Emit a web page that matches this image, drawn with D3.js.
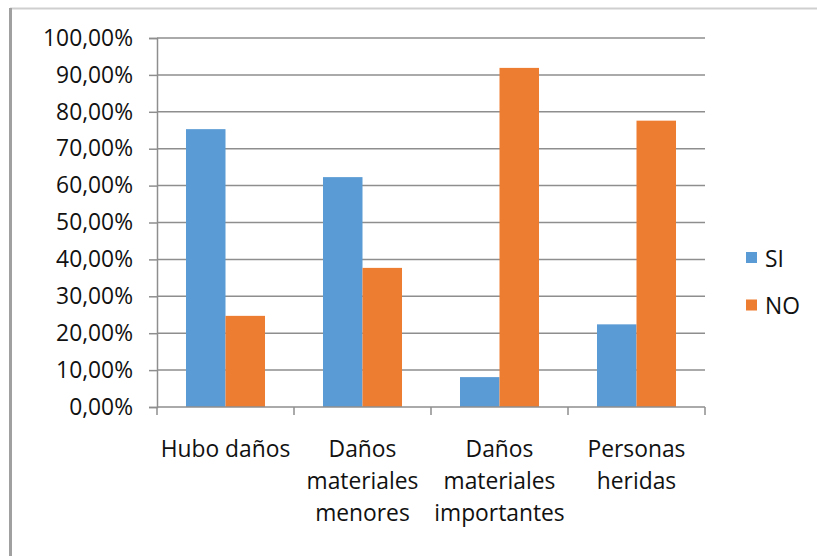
<!DOCTYPE html>
<html>
<head>
<meta charset="utf-8">
<script src="https://cdn.jsdelivr.net/npm/d3@7"></script>
<style>
  body { margin: 0; background: #fff; }
  text { font-family: "Open Sans", sans-serif; fill: #111; }
</style>
</head>
<body>
<div id="chart"></div>
<script>
const categories = [
  ["Hubo daños"],
  ["Daños", "materiales", "menores"],
  ["Daños", "materiales", "importantes"],
  ["Personas", "heridas"],
];
const series = ["SI", "NO"];
const siValues = [75.3, 62.3, 8.1, 22.4];
const noValues = [24.7, 37.7, 91.9, 77.6];
const yTicks = [0, 10, 20, 30, 40, 50, 60, 70, 80, 90, 100];
const colors = { SI: "#5b9bd5", NO: "#ed7d31" };

const width = 817, height = 556;
const plot = { left: 157, right: 705, top: 38, bottom: 407 };
const fontSize = 22.8;

const svg = d3.select("#chart").append("svg")
  .attr("width", width).attr("height", height);

svg.append("rect").attr("width", width).attr("height", height).attr("fill", "#fff");

// frame of the original picture
svg.append("line").attr("x1", 10).attr("x2", width).attr("y1", 8.5).attr("y2", 8.5)
  .attr("stroke", "#cfcfcf").attr("stroke-width", 2);
svg.append("line").attr("x1", 10.5).attr("x2", 10.5).attr("y1", 8).attr("y2", height)
  .attr("stroke", "#a0a0a0").attr("stroke-width", 3);

const keys = categories.map((c) => c.join(" "));
const x = d3.scaleBand().domain(keys).range([plot.left, plot.right]).padding(0);
const xSub = d3.scaleBand().domain(series).range([0, x.bandwidth()])
  .paddingInner(0).paddingOuter(0.734);
const y = d3.scaleLinear().domain([0, 100]).range([plot.bottom, plot.top]);

const fmt = (v) => v.toFixed(2).replace(".", ",") + "%";

// gridlines
svg.append("g").selectAll("line").data(yTicks.filter((d) => d > 0)).join("line")
  .attr("x1", plot.left).attr("x2", plot.right)
  .attr("y1", (d) => y(d)).attr("y2", (d) => y(d))
  .attr("stroke", "#8e8e8e").attr("stroke-width", 1.5);

// y axis
const yAxis = svg.append("g").attr("transform", `translate(${plot.left},0)`)
  .call(d3.axisLeft(y).tickValues(yTicks).tickFormat(fmt).tickSize(8).tickPadding(16));
yAxis.select(".domain").attr("stroke", "#8e8e8e").attr("stroke-width", 1.5);
yAxis.selectAll(".tick line").attr("stroke", "#8e8e8e").attr("stroke-width", 1.5);
yAxis.selectAll(".tick text").attr("font-size", fontSize).attr("font-family", "Open Sans")
  .attr("fill", "#111");

// bars
const rows = keys.map((k, i) => ({ key: k, SI: siValues[i], NO: noValues[i] }));
svg.append("g").selectAll("g").data(rows).join("g")
  .attr("transform", (d) => `translate(${x(d.key)},0)`)
  .selectAll("rect").data((d) => series.map((s) => ({ s, v: d[s] }))).join("rect")
  .attr("x", (d) => xSub(d.s))
  .attr("width", xSub.bandwidth())
  .attr("y", (d) => y(d.v))
  .attr("height", (d) => y(0) - y(d.v))
  .attr("fill", (d) => colors[d.s]);

// x axis
const xAxis = svg.append("g");
xAxis.append("line").attr("x1", plot.left).attr("x2", plot.right)
  .attr("y1", plot.bottom).attr("y2", plot.bottom)
  .attr("stroke", "#8e8e8e").attr("stroke-width", 1.5);
const bounds = keys.map((k) => x(k)).concat([plot.right]);
xAxis.selectAll(".bt").data(bounds).join("line")
  .attr("x1", (d) => d).attr("x2", (d) => d)
  .attr("y1", plot.bottom).attr("y2", plot.bottom + 8)
  .attr("stroke", "#8e8e8e").attr("stroke-width", 1.5);
xAxis.selectAll("text").data(categories).join("text")
  .attr("text-anchor", "middle").attr("font-size", fontSize)
  .attr("x", (d) => x(d.join(" ")) + x.bandwidth() / 2)
  .attr("y", 457)
  .selectAll("tspan").data((d) => d).join("tspan")
  .attr("x", function () { return this.parentNode.getAttribute("x"); })
  .attr("dy", (d, i) => (i === 0 ? 0 : 32))
  .text((d) => d);

// legend
const legend = svg.append("g").selectAll("g").data(series).join("g")
  .attr("transform", (d, i) => `translate(746,${252 + i * 47.5})`);
legend.append("rect").attr("width", 11).attr("height", 11).attr("fill", (d) => colors[d]);
legend.append("text").attr("x", 19).attr("y", 14.5).attr("font-size", fontSize).text((d) => d);
</script>
</body>
</html>
